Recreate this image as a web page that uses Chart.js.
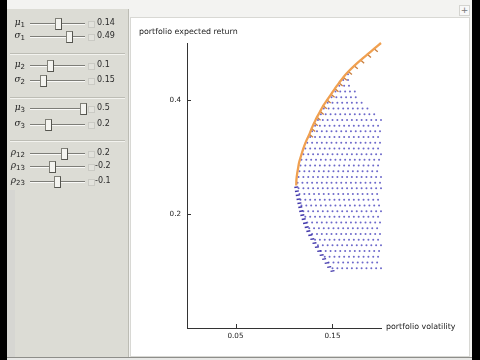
<!DOCTYPE html>
<html><head><meta charset="utf-8">
<script src="https://cdn.jsdelivr.net/npm/chart.js@4.4.0/dist/chart.umd.min.js"></script>
<style>
html,body{margin:0;padding:0;width:480px;height:360px;overflow:hidden;background:#f3f3f1;font-family:"DejaVu Sans",sans-serif;}
#lb{position:absolute;left:0;top:0;width:7px;height:360px;background:#000;}
#rb{position:absolute;left:472px;top:0;width:8px;height:360px;background:#000;}
#bottom{position:absolute;left:7px;top:357px;width:465px;height:3px;background:#e8e8e6;border-top:1px solid #8e8e8a;}
#panel{position:absolute;left:7px;top:9px;width:121px;height:348px;background:#dcdcd5;border-right:1px solid #bcbcb4;}
#strip{position:absolute;left:7px;top:190px;width:8px;height:167px;background:#d6d6d2;}
.sep{position:absolute;left:10px;width:115px;height:1px;background:#bdbdb5;border-bottom:1px solid #f3f3ef;}
.row{position:absolute;left:0;width:128px;height:12px;}
.lab{position:absolute;left:4px;width:21px;top:-1px;text-align:right;font-family:"DejaVu Serif",serif;font-style:italic;font-size:9px;color:#222;}
.lab sub{font-style:normal;font-family:"DejaVu Sans",sans-serif;font-size:7px;vertical-align:-2px;}
.track{position:absolute;left:30px;top:5px;width:55px;height:1px;background:#7d7d78;border-bottom:1px solid #fafaf8;}
.thumb{position:absolute;top:0px;width:5px;height:10px;background:#f4f4f0;border:1px solid #808078;border-right-color:#55554f;border-bottom-color:#55554f;}
.box{position:absolute;left:88px;top:3px;width:5px;height:5px;border:1px solid #cacac4;background:#e2e2dc;}
.val{position:absolute;left:97px;top:0px;font-size:8px;color:#2a2a2a;}
.val.neg{left:95px;}
#plot{position:absolute;left:130px;top:17px;width:338px;height:338px;background:#fff;border:1px solid #d8d8d4;}
#cv{position:absolute;left:130px;top:17px;}
.axl{position:absolute;font-family:"DejaVu Sans",sans-serif;font-size:7.9px;color:#222;white-space:nowrap;}
#plus{position:absolute;left:459px;top:5px;width:9px;height:9px;font-size:9px;line-height:9px;text-align:center;color:#777;background:#f8f8f8;border:1px solid #d4d4d0;}
</style>
</head><body>
<div id="lb"></div><div id="rb"></div>
<div id="panel"></div>
<div id="strip"></div>
<div id="bottom"></div>
<div id="plus">+</div>
<div id="plot"></div>
<canvas id="cv" width="338" height="338"></canvas>
<div class="axl" style="left:139px;top:27px;">portfolio expected return</div>
<div class="axl" style="left:386px;top:322px;">portfolio volatility</div>
<div id="controls"></div>
<script>
// ---- control values shown in the left panel ----
const ctrlNames = ["μ|1","σ|1","μ|2","σ|2","μ|3","σ|3","ρ|12","ρ|13","ρ|23"];
const ctrlValues = ["0.14","0.49","0.1","0.15","0.5","0.2","0.2","-0.2","-0.1"];

// ---- chart data ----
const xTickValues = [0.05, 0.15];
const xTickLabels = ["0.05", "0.15"];
const yTickValues = [0.2, 0.4];
const yTickLabels = ["0.2", "0.4"];

// efficient frontier (orange)
const frontierSigma = [0.1126,0.1128,0.1135,0.1145,0.1155,0.1172,0.1190,0.1210,0.1234,0.1262,0.1285,0.1312,0.1340,0.1373,0.1405,0.1445,0.1485,0.1525,0.1568,0.1612,0.1664,0.1724,0.1790,0.1860,0.1930,0.2000];
const frontierMu    = [0.250,0.260,0.270,0.280,0.290,0.300,0.310,0.320,0.330,0.340,0.350,0.360,0.370,0.380,0.390,0.400,0.410,0.420,0.430,0.440,0.450,0.460,0.470,0.480,0.490,0.500];

// small marks hugging the upper frontier
const tickSigma = [0.1278,0.1301,0.1328,0.1356,0.1389,0.1421,0.1461,0.1501,0.1541,0.1584,0.1628,0.1680,0.1740,0.1806,0.1876,0.1946];
const tickMu    = [0.3376,0.3476,0.3576,0.3676,0.3776,0.3876,0.3976,0.4076,0.4176,0.4276,0.4376,0.4476,0.4576,0.4676,0.4776,0.4876];

// dark lower-left edge of the portfolio cloud
const edgeSigma = [0.1500,0.1466,0.1440,0.1414,0.1388,0.1363,0.1339,0.1314,0.1292,0.1271,0.1251,0.1234,0.1217,0.1203,0.1189,0.1177,0.1168,0.1159,0.1150,0.1142,0.1133,0.1127];
const edgeMu    = [0.100,0.107,0.114,0.121,0.128,0.135,0.142,0.149,0.156,0.163,0.170,0.177,0.184,0.191,0.198,0.205,0.212,0.219,0.226,0.233,0.240,0.247];

// portfolio cloud: one row of volatilities for each expected-return level
const cloudMu = [0.105,0.115,0.125,0.135,0.145,0.155,0.165,0.175,0.185,0.195,0.205,0.215,0.225,0.235,0.245,0.255,0.265,0.275,0.285,0.295,0.305,0.315,0.325,0.335,0.345,0.355,0.365,0.375,0.385,0.395,0.405,0.415,0.425,0.435,0.445];
const cloudSigma = [
 [.150,.155,.160,.165,.170,.175,.180,.185,.190,.195,.200],
 [.146,.151,.156,.161,.166,.171,.176,.181,.186,.191,.196],
 [.142,.147,.152,.157,.162,.167,.172,.177,.182,.187,.192,.197],
 [.138,.143,.148,.153,.158,.163,.168,.173,.178,.183,.188,.193,.198],
 [.135,.140,.145,.150,.155,.160,.165,.170,.175,.180,.185,.190,.195,.200],
 [.132,.137,.142,.147,.152,.157,.162,.167,.172,.177,.182,.187,.192,.197],
 [.129,.134,.139,.144,.149,.154,.159,.164,.169,.174,.179,.184,.189,.194,.199],
 [.126,.131,.136,.141,.146,.151,.156,.161,.166,.171,.176,.181,.186,.191,.196],
 [.124,.129,.134,.139,.144,.149,.154,.159,.164,.169,.174,.179,.184,.189,.194,.199],
 [.122,.127,.132,.137,.142,.147,.152,.157,.162,.167,.172,.177,.182,.187,.192,.197],
 [.120,.125,.130,.135,.140,.145,.150,.155,.160,.165,.170,.175,.180,.185,.190,.195,.200],
 [.118,.123,.128,.133,.138,.143,.148,.153,.158,.163,.168,.173,.178,.183,.188,.193,.198],
 [.117,.122,.127,.132,.137,.142,.147,.152,.157,.162,.167,.172,.177,.182,.187,.192,.197],
 [.116,.121,.126,.131,.136,.141,.146,.151,.156,.161,.166,.171,.176,.181,.186,.191,.196],
 [.115,.120,.125,.130,.135,.140,.145,.150,.155,.160,.165,.170,.175,.180,.185,.190,.195,.200],
 [.114,.119,.124,.129,.134,.139,.144,.149,.154,.159,.164,.169,.174,.179,.184,.189,.194,.199],
 [.115,.120,.125,.130,.135,.140,.145,.150,.155,.160,.165,.170,.175,.180,.185,.190,.195,.200],
 [.116,.121,.126,.131,.136,.141,.146,.151,.156,.161,.166,.171,.176,.181,.186,.191,.196],
 [.117,.122,.127,.132,.137,.142,.147,.152,.157,.162,.167,.172,.177,.182,.187,.192,.197],
 [.118,.123,.128,.133,.138,.143,.148,.153,.158,.163,.168,.173,.178,.183,.188,.193,.198],
 [.120,.125,.130,.135,.140,.145,.150,.155,.160,.165,.170,.175,.180,.185,.190,.195,.200],
 [.122,.127,.132,.137,.142,.147,.152,.157,.162,.167,.172,.177,.182,.187,.192,.197],
 [.124,.129,.134,.139,.144,.149,.154,.159,.164,.169,.174,.179,.184,.189,.194,.199],
 [.127,.132,.137,.142,.147,.152,.157,.162,.167,.172,.177,.182,.187,.192,.197],
 [.129,.134,.139,.144,.149,.154,.159,.164,.169,.174,.179,.184,.189,.194,.199],
 [.132,.137,.142,.147,.152,.157,.162,.167,.172,.177,.182,.187,.192,.197],
 [.135,.140,.145,.150,.155,.160,.165,.170,.175,.180,.185,.190,.195,.200],
 [.138,.143,.148,.153,.158,.163,.168,.173,.178,.183,.188,.193],
 [.141,.146,.151,.156,.161,.166,.171,.176,.181,.186],
 [.145,.150,.155,.160,.165,.170,.175,.180],
 [.149,.154,.159,.164,.169,.174],
 [.153,.158,.163,.168,.173],
 [.157,.162,.167],
 [.161,.166],
 [.166]
];

// ---- build the control panel (static picture of the sliders) ----
const rowY = [18,31,60,75,103,119,148,161,176];
const thumbX = [58,69,50,43,83,48,64,52,57];
const seps = [53,97,140];
const ctl = document.getElementById('controls');
seps.forEach(y=>{const d=document.createElement('div');d.className='sep';d.style.top=y+'px';ctl.appendChild(d);});
ctrlNames.forEach((n,i)=>{
  const [g,s] = n.split('|');
  const r = document.createElement('div'); r.className='row'; r.style.top = rowY[i]+'px';
  const neg = ctrlValues[i].startsWith('-');
  r.innerHTML = '<span class="lab">'+g+'<sub>'+s+'</sub></span><div class="track"></div>'+
    '<div class="thumb" style="left:'+(thumbX[i]-3)+'px"></div><div class="box"></div>'+
    '<span class="val'+(neg?' neg':'')+'">'+ctrlValues[i]+'</span>';
  ctl.appendChild(r);
});

// ---- chart ----
const pts = (xs, ys) => xs.map((x,i)=>({x:x, y:ys[i]}));
const cloudPts = [];
cloudSigma.forEach((row,i)=>row.forEach(s=>cloudPts.push({x:s, y:cloudMu[i]})));

const insideTicks = {
  id:'insideTicks',
  afterDraw(chart){
    const {ctx, chartArea:a, scales:{x,y}} = chart;
    ctx.save(); ctx.strokeStyle='#333'; ctx.lineWidth=1;
    xTickValues.forEach(v=>{const p=Math.round(x.getPixelForValue(v))+0.5;ctx.beginPath();ctx.moveTo(p,a.bottom);ctx.lineTo(p,a.bottom-4);ctx.stroke();});
    yTickValues.forEach(v=>{const p=Math.round(y.getPixelForValue(v))+0.5;ctx.beginPath();ctx.moveTo(a.left,p);ctx.lineTo(a.left+4,p);ctx.stroke();});
    ctx.restore();
  }
};

const tickFont = {family:'DejaVu Sans', size:7.2};
new Chart(document.getElementById('cv'), {
  type:'scatter',
  data:{datasets:[
    {label:'frontier', data:pts(frontierSigma,frontierMu), showLine:true, borderColor:'rgb(240,160,80)', borderWidth:2.3, pointRadius:0, tension:0.2, order:0, clip:false},
    {label:'marks', data:pts(tickSigma,tickMu), pointStyle:'line', rotation:40, pointRadius:2.6, borderColor:'rgb(200,126,62)', borderWidth:1.3, order:1, clip:false},
    {label:'edge', data:pts(edgeSigma,edgeMu), pointStyle:'line', rotation:-10, pointRadius:2.0, borderColor:'rgb(64,54,170)', borderWidth:1.4, order:2, clip:false},
    {label:'cloud', data:cloudPts, pointRadius:1.0, pointBorderWidth:0, backgroundColor:'rgb(108,104,202)', order:3, clip:false}
  ]},
  options:{
    responsive:false, animation:false, devicePixelRatio:1,
    layout:{padding:{left:0, right:87, top:26, bottom:0}},
    plugins:{legend:{display:false}, tooltip:{enabled:false}},
    scales:{
      x:{type:'linear', min:0, max:0.2,
         afterBuildTicks:s=>{s.ticks = xTickValues.map(v=>({value:v}));},
         afterFit:s=>{s.height=27;},
         ticks:{callback:(v,i)=>xTickLabels[i], font:tickFont, color:'#222', padding:4, maxRotation:0, autoSkip:false},
         grid:{display:false, drawTicks:false}, border:{display:true, color:'#333', width:1}},
      y:{type:'linear', min:0, max:0.5,
         afterBuildTicks:s=>{s.ticks = yTickValues.map(v=>({value:v}));},
         afterFit:s=>{s.width=57;},
         ticks:{callback:(v,i)=>yTickLabels[i], font:tickFont, color:'#222', padding:6, autoSkip:false},
         grid:{display:false, drawTicks:false}, border:{display:true, color:'#333', width:1}}
    }
  },
  plugins:[insideTicks]
});
</script>
</body></html>
